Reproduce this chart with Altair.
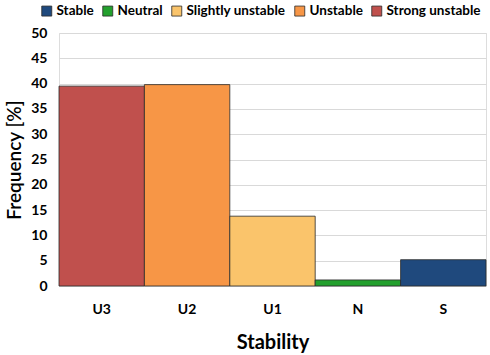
import altair as alt
import pandas as pd

categories = ["U3", "U2", "U1", "N", "S"]
frequency = [39.5, 39.8, 13.8, 1.2, 5.2]
classes = ["Strong unstable", "Unstable", "Slightly unstable", "Neutral", "Stable"]

legend_order = ["Stable", "Neutral", "Slightly unstable", "Unstable", "Strong unstable"]
legend_colors = ["#1F497D", "#23A02D", "#FAC46B", "#F79646", "#C0504D"]

df = pd.DataFrame({"cat": categories, "freq": frequency, "cls": classes})

FONT = "Lato"

chart = alt.Chart(df).mark_bar(stroke="#2a2a2a", strokeWidth=0.8).encode(
    x=alt.X("cat:N", sort=categories,
            scale=alt.Scale(paddingInner=0, paddingOuter=0),
            axis=alt.Axis(title="Stability", labelAngle=0, ticks=False, domain=False,
                          labelFont=FONT, labelFontWeight="bold", labelFontSize=14,
                          labelColor="black", labelPadding=16,
                          titleFont=FONT, titleFontWeight="bold", titleFontSize=20,
                          titleColor="black", titlePadding=16)),
    y=alt.Y("freq:Q", scale=alt.Scale(domain=[0, 50], nice=False),
            axis=alt.Axis(title="Frequency [%]", values=list(range(0, 51, 5)),
                          ticks=False, domain=False, grid=True, gridColor="#d9d9d9",
                          labelFont=FONT, labelFontWeight="bold", labelFontSize=14,
                          labelColor="black", labelPadding=12,
                          titleFont=FONT, titleFontWeight=600, titleFontSize=19,
                          titleColor="black", titlePadding=6)),
    color=alt.Color("cls:N",
                    scale=alt.Scale(domain=legend_order, range=legend_colors),
                    legend=alt.Legend(title=None, orient="none", direction="horizontal",
                                      legendX=-19, legendY=-29, padding=0,
                                      symbolType="square", symbolSize=100,
                                      symbolStrokeColor="#2a2a2a", symbolStrokeWidth=0.8,
                                      labelFont=FONT, labelFontWeight="bold",
                                      labelFontSize=13.5, labelColor="black",
                                      columnPadding=7, symbolOffset=0, labelOffset=3)),
).properties(
    width=427, height=253,
    autosize=alt.AutoSizeParams(type="none"),
    padding={"left": 59, "top": 33, "right": 4, "bottom": 69},
).configure_view(stroke="black", strokeWidth=1.5).configure(background="white")

chart.save("out.html", embed_options={"renderer": "svg", "actions": False})
